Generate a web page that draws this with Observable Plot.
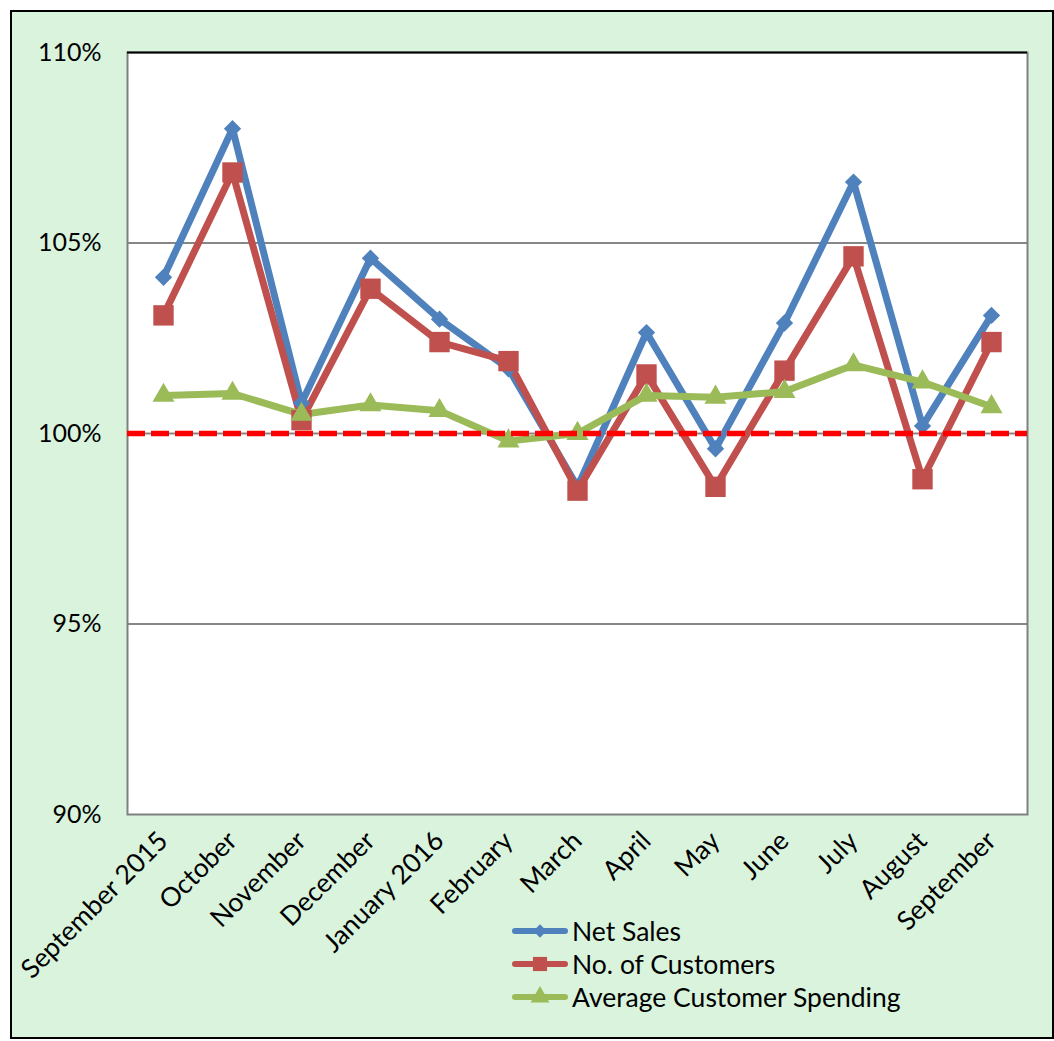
<!DOCTYPE html>
<html>
<head>
<meta charset="utf-8">
<script src="https://cdn.jsdelivr.net/npm/d3@7"></script>
<script src="https://cdn.jsdelivr.net/npm/@observablehq/plot@0.6"></script>
<style>
  html, body { margin: 0; padding: 0; background: #ffffff; }
  #frame {
    position: absolute; left: 10px; top: 10px;
    width: 1040px; height: 1025px;
    border: 2px solid #000; background: #d9f3dc;
    font-family: Lato, "Open Sans", sans-serif;
  }
  #chart { position: absolute; left: 0; top: 0; }
  #legend { position: absolute; left: 498px; top: 902px; }
  .row { display: flex; align-items: center; height: 33px; font-size: 26.5px; color: #000; }
  .row svg { margin-right: 2px; }
</style>
</head>
<body>
<div id="frame">
  <div id="chart"></div>
  <div id="legend"></div>
</div>
<script>
const months = ["September 2015","October","November","December","January 2016","February","March","April","May","June","July","August","September"];
const netSales    = [104.1, 108.0, 100.8, 104.6, 103.0, 101.7, 98.6, 102.65, 99.6, 102.9, 106.6, 100.2, 103.1];
const customers   = [103.1, 106.85, 100.35, 103.8, 102.4, 101.9, 98.5, 101.55, 98.6, 101.65, 104.65, 98.8, 102.4];
const avgSpending = [101.0, 101.05, 100.5, 100.75, 100.6, 99.8, 100.0, 101.0, 100.95, 101.1, 101.8, 101.35, 100.7];
const yTicks = [90, 95, 100, 105, 110];
const seriesNames = ["Net Sales", "No. of Customers", "Average Customer Spending"];
const seriesColors = ["#4f81bd", "#c0504d", "#9bbb59"];
const seriesSymbols = ["diamond2", "square", "triangle"];
const seriesR = [7.8, 11.5, 8.2];
const legendR = [6, 8, 7];

const seriesValues = [netSales, customers, avgSpending];
const rows = [];
seriesValues.forEach((vals, s) => vals.forEach((v, i) => rows.push({month: months[i], value: v, series: seriesNames[s]})));

const chart = Plot.plot({
  width: 1040,
  height: 1025,
  marginLeft: 115,
  marginRight: 25,
  marginTop: 40,
  marginBottom: 223,
  style: {background: "transparent", fontFamily: "Lato, 'Open Sans', sans-serif", fontSize: "25px", color: "#000"},
  x: {type: "point", domain: months, padding: 0.5, label: null},
  y: {domain: [90, 110], label: null},
  color: {domain: seriesNames, range: seriesColors},
  symbol: {domain: seriesNames, range: seriesSymbols},
  marks: [
    Plot.frame({fill: "#ffffff", stroke: null}),
    Plot.ruleY([95, 100, 105], {stroke: "#868686", strokeWidth: 2}),
    Plot.frame({stroke: "#808080", strokeWidth: 2}),
    Plot.ruleY([110], {stroke: "#000", strokeWidth: 2}),
    Plot.axisY({ticks: yTicks, tickSize: 0, tickPadding: 26, tickFormat: d => d + "%", fontSize: 25, label: null}),
    Plot.axisX({tickSize: 0, tickPadding: 22, tickRotate: -45, fontSize: 26.5, label: null}),
    Plot.line(rows, {x: "month", y: "value", z: "series", stroke: "series", strokeWidth: 7, strokeLinejoin: "miter"}),
    ...seriesNames.map((name, s) =>
      Plot.dot(rows.filter(d => d.series === name), {x: "month", y: "value", symbol: "series", fill: "series", stroke: null, r: seriesR[s]})
    ),
    Plot.ruleY([100], {stroke: "#ff0000", strokeWidth: 5.5, strokeDasharray: "18,6"})
  ]
});
document.getElementById("chart").appendChild(chart);

// Legend
const legend = d3.select("#legend");
seriesNames.forEach((name, s) => {
  const row = legend.append("div").attr("class", "row");
  const svg = row.append("svg").attr("width", 60).attr("height", 30);
  svg.append("line").attr("x1", 5).attr("x2", 55).attr("y1", 15).attr("y2", 15)
    .attr("stroke", seriesColors[s]).attr("stroke-width", 6).attr("stroke-linecap", "round");
  const sym = {diamond2: d3.symbolDiamond2, square: d3.symbolSquare, triangle: d3.symbolTriangle}[seriesSymbols[s]];
  svg.append("path").attr("transform", "translate(30,15)")
    .attr("d", d3.symbol(sym, Math.PI * legendR[s] * legendR[s])())
    .attr("fill", seriesColors[s]);
  row.append("span").text(name);
});
</script>
</body>
</html>
